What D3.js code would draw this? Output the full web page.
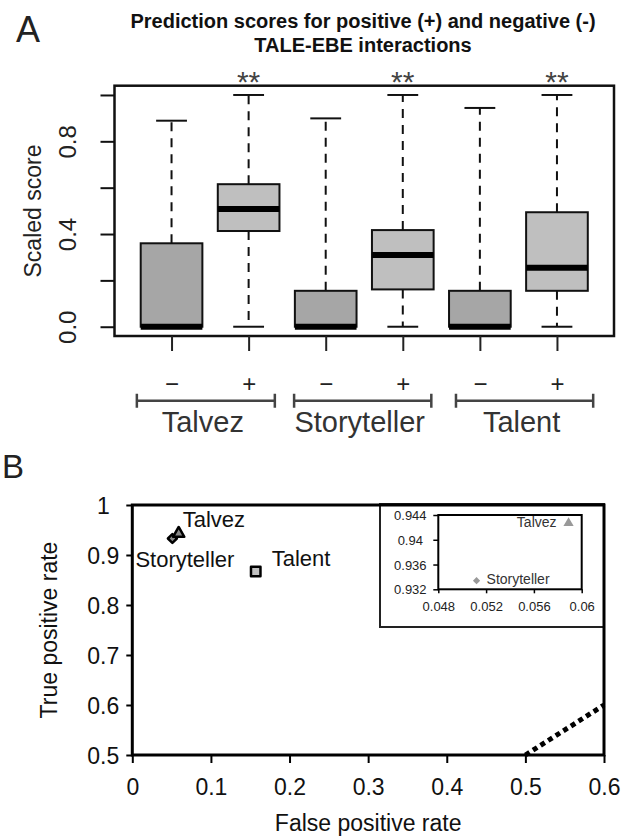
<!DOCTYPE html>
<html>
<head>
<meta charset="utf-8">
<script src="https://cdn.jsdelivr.net/npm/d3@7"></script>
<style>
    body { margin: 0; background: #fff; }
    svg { display: block; font-family: "Liberation Sans", Arial, sans-serif; }
</style>
</head>
<body>
<svg id="chart" width="623" height="839"></svg>
<script>
// ---- Panel A: boxplot data (scaled scores) ----
const boxGroups = ['Talvez', 'Talvez', 'Storyteller', 'Storyteller', 'Talent', 'Talent'];
const boxSigns = ['\u2212', '+', '\u2212', '+', '\u2212', '+'];
const boxLow = [0, 0, 0, 0, 0, 0];
const boxQ1 = [0, 0.413, 0, 0.161, 0, 0.155];
const boxMedian = [0, 0.508, 0, 0.309, 0, 0.255];
const boxQ3 = [0.36, 0.615, 0.155, 0.417, 0.155, 0.494];
const boxHigh = [0.889, 1.0, 0.899, 1.0, 0.944, 1.0];
const boxStars = ['', '**', '', '**', '', '**'];
const groupNames = ['Talvez', 'Storyteller', 'Talent'];
const yTicksA = [0, 0.2, 0.4, 0.6, 0.8, 1.0];
const yLabelsA = [0, 0.4, 0.8];

// ---- Panel B: ROC points ----
const methods = ['Talvez', 'Storyteller', 'Talent'];
const fprMain = [0.059, 0.051, 0.157];
const tprMain = [0.943, 0.933, 0.867];
const randomLine = [[0.5, 0.5], [0.6, 0.6]];
const xTicksB = [0, 0.1, 0.2, 0.3, 0.4, 0.5, 0.6];
const yTicksB = [0.5, 0.6, 0.7, 0.8, 0.9, 1];

// inset (zoom on Talvez / Storyteller)
const insetMethods = ['Talvez', 'Storyteller'];
const insetFpr = [0.0589, 0.0512];
const insetTpr = [0.9427, 0.9334];
const insetXTicks = [0.048, 0.052, 0.056, 0.06];
const insetYTicks = [0.932, 0.936, 0.94, 0.944];

const svg = d3.select('#chart');

// ================= Panel A =================
const gA = svg.append('g');
const xA = d3.scaleLinear().domain([0.26, 6.74]).range([114.5, 614]);
const yA = d3.scaleLinear().domain([-0.04, 1.04]).range([336, 85.7]);
const halfBox = xA(1.4) - xA(1);
const halfCap = xA(1.2) - xA(1);

gA.append('text').attr('x', 16).attr('y', 42)
    .attr('font-size', 36).attr('fill', '#222').text('A');

const title = gA.append('text').attr('text-anchor', 'middle')
    .attr('font-weight', 'bold').attr('font-size', 20).attr('fill', '#111');
title.append('tspan').attr('x', 363).attr('y', 28).text('Prediction scores for positive (+) and negative (-)');
title.append('tspan').attr('x', 363).attr('y', 52).text('TALE-EBE interactions');

const boxes = gA.selectAll('g.box')
    .data(boxGroups.map((g, i) => ({
        pos: i + 1, lo: boxLow[i], q1: boxQ1[i], med: boxMedian[i],
        q3: boxQ3[i], hi: boxHigh[i], sign: boxSigns[i], star: boxStars[i]
    })))
    .enter().append('g').attr('class', 'box');

// whiskers (dashed)
boxes.append('line')
    .attr('x1', d => xA(d.pos)).attr('x2', d => xA(d.pos))
    .attr('y1', d => yA(d.q3)).attr('y2', d => yA(d.hi))
    .attr('stroke', '#111').attr('stroke-width', 2).attr('stroke-dasharray', '9,7');
boxes.append('line')
    .attr('x1', d => xA(d.pos)).attr('x2', d => xA(d.pos))
    .attr('y1', d => yA(d.q1)).attr('y2', d => yA(d.lo))
    .attr('stroke', '#111').attr('stroke-width', 2).attr('stroke-dasharray', '9,7');
// caps
boxes.append('line')
    .attr('x1', d => xA(d.pos) - halfCap).attr('x2', d => xA(d.pos) + halfCap)
    .attr('y1', d => yA(d.hi)).attr('y2', d => yA(d.hi))
    .attr('stroke', '#111').attr('stroke-width', 2);
boxes.append('line')
    .attr('x1', d => xA(d.pos) - halfCap).attr('x2', d => xA(d.pos) + halfCap)
    .attr('y1', d => yA(d.lo)).attr('y2', d => yA(d.lo))
    .attr('stroke', '#111').attr('stroke-width', 2);
// boxes
boxes.append('rect')
    .attr('x', d => xA(d.pos) - halfBox).attr('width', 2 * halfBox)
    .attr('y', d => yA(d.q3)).attr('height', d => yA(d.q1) - yA(d.q3))
    .attr('fill', d => d.sign === '+' ? '#bfbfbf' : '#a6a6a6')
    .attr('stroke', '#111').attr('stroke-width', 2);
// medians
boxes.append('line')
    .attr('x1', d => xA(d.pos) - halfBox).attr('x2', d => xA(d.pos) + halfBox)
    .attr('y1', d => yA(d.med)).attr('y2', d => yA(d.med))
    .attr('stroke', '#000').attr('stroke-width', 6);
// significance stars
boxes.append('text')
    .attr('x', d => xA(d.pos)).attr('y', 92)
    .attr('text-anchor', 'middle').attr('font-size', 30).attr('fill', '#444')
    .text(d => d.star);

// frame
gA.append('rect').attr('x', xA.range()[0]).attr('y', yA.range()[1])
    .attr('width', xA.range()[1] - xA.range()[0])
    .attr('height', yA.range()[0] - yA.range()[1])
    .attr('fill', 'none').attr('stroke', '#111').attr('stroke-width', 2.5);

// y axis
const yAxisA = gA.append('g').attr('transform', `translate(${xA.range()[0]},0)`)
    .call(d3.axisLeft(yA).tickValues(yTicksA).tickSize(14).tickSizeOuter(0)
        .tickFormat(d => yLabelsA.includes(d) ? d.toFixed(1) : ''));
yAxisA.select('.domain').remove();
yAxisA.selectAll('.tick line').attr('stroke', '#111').attr('stroke-width', 2);
yAxisA.selectAll('.tick text')
    .attr('x', null).attr('dy', null)
    .attr('transform', 'translate(-39,0) rotate(-90)')
    .attr('text-anchor', 'middle').attr('font-size', 24).attr('fill', '#222')
    .style('font-family', '"Liberation Sans", Arial, sans-serif');

gA.append('text')
    .attr('transform', 'translate(41,211) rotate(-90)')
    .attr('text-anchor', 'middle').attr('font-size', 23).attr('fill', '#222')
    .text('Scaled score');

// x axis (- / + under each box)
const xAxisA = gA.append('g').attr('transform', `translate(0,${yA.range()[0]})`)
    .call(d3.axisBottom(xA).tickValues(boxGroups.map((g, i) => i + 1)).tickSize(15).tickSizeOuter(0)
        .tickFormat((d, i) => boxSigns[i]));
xAxisA.select('.domain').remove();
xAxisA.selectAll('.tick line').attr('stroke', '#222').attr('stroke-width', 2);
xAxisA.selectAll('.tick text')
    .attr('y', 55.5).attr('dy', null)
    .attr('font-size', 24).attr('fill', '#222')
    .style('font-family', '"Liberation Sans", Arial, sans-serif');

// group brackets
const bracketSpans = [[0.55, 2.34], [2.59, 4.37], [4.69, 6.47]];
const bracketY = 400.7;
const brackets = gA.selectAll('g.bracket')
    .data(groupNames.map((name, i) => ({ name, span: bracketSpans[i] })))
    .enter().append('g').attr('class', 'bracket');
brackets.append('path')
    .attr('d', d => {
        const a = xA(d.span[0]), b = xA(d.span[1]);
        return `M${a},${bracketY - 7}V${bracketY + 7}M${a},${bracketY}H${b}M${b},${bracketY - 7}V${bracketY + 7}`;
    })
    .attr('fill', 'none').attr('stroke', '#444').attr('stroke-width', 2.5);
brackets.append('text')
    .attr('x', d => (xA(d.span[0]) + xA(d.span[1])) / 2 - 3)
    .attr('y', 432).attr('text-anchor', 'middle')
    .attr('font-size', 29).attr('fill', '#333')
    .text(d => d.name);

// ================= Panel B =================
const gB = svg.append('g');
const xB = d3.scaleLinear().domain([0, 0.6]).range([132.3, 604]);
const yB = d3.scaleLinear().domain([0.5, 1]).range([755, 505]);

gB.append('text').attr('x', 2).attr('y', 478)
    .attr('font-size', 33).attr('fill', '#222').text('B');

// random classifier diagonal (dotted)
gB.append('path')
    .attr('d', d3.line().x(d => xB(d[0])).y(d => yB(d[1]))(randomLine))
    .attr('stroke', '#000').attr('stroke-width', 5).attr('stroke-dasharray', '5,4')
    .attr('fill', 'none');

// inset frame (drawn before main axes so those stay on top)
const inset = gB.append('g');
inset.append('rect').attr('x', 380).attr('y', 504).attr('width', 224).attr('height', 123)
    .attr('fill', '#fff').attr('stroke', '#222').attr('stroke-width', 2);

// main axes
const xAxisB = gB.append('g').attr('transform', `translate(0,${yB.range()[0]})`)
    .call(d3.axisBottom(xB).tickValues(xTicksB).tickSize(8).tickSizeOuter(0)
        .tickFormat(d => d === 0 ? '0' : d3.format('.1f')(d)));
const yAxisB = gB.append('g').attr('transform', `translate(${xB.range()[0]},0)`)
    .call(d3.axisLeft(yB).tickValues(yTicksB).tickSize(6).tickSizeOuter(0)
        .tickFormat(d => d === 1 ? '1' : d3.format('.1f')(d)));
[xAxisB, yAxisB].forEach(ax => {
    ax.select('.domain').remove();
    ax.selectAll('.tick line').attr('stroke', '#000').attr('stroke-width', 2);
    ax.selectAll('.tick text').attr('font-size', 23).attr('fill', '#111')
        .style('font-family', '"Liberation Sans", Arial, sans-serif');
});
xAxisB.selectAll('.tick text').attr('y', 40).attr('dy', null);
yAxisB.selectAll('.tick text').attr('x', -29).attr('dy', '0.36em').attr('text-anchor', 'middle');

gB.append('rect').attr('x', xB.range()[0]).attr('y', yB.range()[1])
    .attr('width', xB.range()[1] - xB.range()[0]).attr('height', yB.range()[0] - yB.range()[1])
    .attr('fill', 'none').attr('stroke', '#000').attr('stroke-width', 3);

gB.append('text').attr('x', (xB.range()[0] + xB.range()[1]) / 2).attr('y', 831)
    .attr('text-anchor', 'middle').attr('font-size', 23).attr('fill', '#111')
    .text('False positive rate');
gB.append('text').attr('transform', 'translate(57,630) rotate(-90)')
    .attr('text-anchor', 'middle').attr('font-size', 23).attr('fill', '#111')
    .text('True positive rate');

// inset plot
const xI = d3.scaleLinear().domain([0.048, 0.06]).range([438.3, 581.7]);
const yI = d3.scaleLinear().domain([0.932, 0.944]).range([589.3, 515]);
const xAxisI = inset.append('g').attr('transform', `translate(0,${yI.range()[0]})`)
    .call(d3.axisBottom(xI).tickValues(insetXTicks).tickSize(4).tickSizeOuter(0)
        .tickFormat(d => d3.format('.3~f')(d)));
const yAxisI = inset.append('g').attr('transform', `translate(${xI.range()[0]},0)`)
    .call(d3.axisLeft(yI).tickValues(insetYTicks).tickSize(5).tickSizeOuter(0)
        .tickFormat(d => d3.format('.3~f')(d)));
[xAxisI, yAxisI].forEach(ax => {
    ax.select('.domain').remove();
    ax.selectAll('.tick line').attr('stroke', '#000').attr('stroke-width', 1.5);
    ax.selectAll('.tick text').attr('font-size', 13).attr('fill', '#222')
        .style('font-family', '"Liberation Sans", Arial, sans-serif');
});
xAxisI.selectAll('.tick text').attr('y', 22).attr('dy', null);
yAxisI.selectAll('.tick text').attr('x', -28).attr('dy', '0.36em').attr('text-anchor', 'middle');
inset.append('rect').attr('x', xI.range()[0]).attr('y', yI.range()[1])
    .attr('width', xI.range()[1] - xI.range()[0]).attr('height', yI.range()[0] - yI.range()[1])
    .attr('fill', 'none').attr('stroke', '#000').attr('stroke-width', 2);

const insetShapes = [d3.symbolTriangle, d3.symbolSquare];
const insetPts = inset.selectAll('g.ipt')
    .data(insetMethods.map((m, i) => ({ name: m, x: insetFpr[i], y: insetTpr[i], i })))
    .enter().append('g').attr('class', 'ipt')
    .attr('transform', d => `translate(${xI(d.x)},${yI(d.y)})`);
insetPts.append('path')
    .attr('d', d => d3.symbol(insetShapes[d.i], d.i === 0 ? 45 : 26)())
    .attr('transform', d => d.i === 1 ? 'rotate(45)' : null)
    .attr('fill', '#999');
insetPts.append('text')
    .attr('x', d => d.i === 0 ? -12 : 10).attr('y', d => d.i === 0 ? 4 : 3)
    .attr('text-anchor', d => d.i === 0 ? 'end' : 'start')
    .attr('font-size', 14).attr('fill', '#333')
    .text(d => d.name);

// main points
const mainShapes = [d3.symbolTriangle, d3.symbolSquare, d3.symbolSquare];
const labelOffsets = [[4, -7], [-37, 28], [16, -6]];
const pts = gB.selectAll('g.pt')
    .data(methods.map((m, i) => ({ name: m, x: fprMain[i], y: tprMain[i], i })))
    .enter().append('g').attr('class', 'pt')
    .attr('transform', d => `translate(${xB(d.x)},${yB(d.y)})`);
pts.sort((a, b) => b.i - a.i);
pts.append('path')
    .attr('d', d => d3.symbol(mainShapes[d.i], d.i === 0 ? 55 : (d.i === 1 ? 40 : 90))())
    .attr('transform', d => d.i === 1 ? 'rotate(45)' : null)
    .attr('fill', d => d.i === 2 ? '#c0c0c0' : '#888')
    .attr('stroke', '#000').attr('stroke-width', 2.5).attr('stroke-linejoin', 'round');
pts.append('text')
    .attr('x', d => labelOffsets[d.i][0]).attr('y', d => labelOffsets[d.i][1])
    .attr('font-size', 22).attr('fill', '#111')
    .text(d => d.name);
</script>
</body>
</html>
